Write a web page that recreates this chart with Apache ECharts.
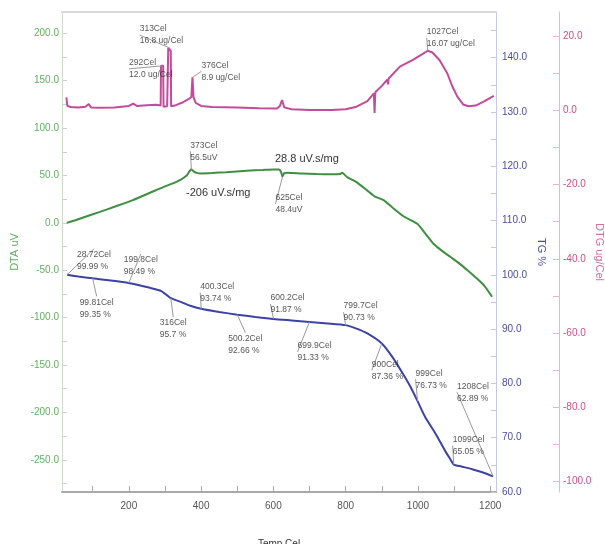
<!DOCTYPE html>
<html>
<head>
<meta charset="utf-8">
<script src="https://cdn.jsdelivr.net/npm/echarts@6/dist/echarts.min.js"></script>
<style>
html,body{margin:0;padding:0;background:#fff;}
#chart{width:605px;height:544px;}
</style>
</head>
<body>
<div id="chart"></div>
<script>
// ---------------- DATA ----------------
const dtaTemp = [28, 50, 80, 120, 160, 211, 260, 300, 322, 345, 360, 368, 373, 380, 390, 400, 430, 470, 526, 570, 600, 615, 621, 625, 630, 640, 680, 720, 760, 785, 790, 795, 805, 830, 860, 880, 905, 930, 960, 998, 1020, 1043, 1065, 1090, 1115, 1137, 1164, 1185, 1205];
const dtaVal  = [0, 2.5, 6.5, 11.6, 17, 24, 32, 38.5, 41.6, 46, 50, 54.5, 56.5, 54, 52.5, 52.2, 52.6, 53.5, 55, 55.8, 56.4, 56.2, 54, 49, 52.5, 53, 52, 51.5, 51.3, 51.5, 53, 51.5, 48, 43, 34, 28, 24, 16, 7, -1, -11, -22, -29, -36, -43, -50, -59, -67, -78];

const tgTemp = [28.72, 60, 99.81, 150, 199.8, 240, 270, 290, 300, 310, 316, 340, 370, 400.3, 450, 500.2, 550, 600.2, 650, 699.9, 750, 799.7, 830, 860, 900, 930, 960, 980, 999, 1020, 1050, 1075, 1090, 1099, 1120, 1150, 1180, 1208];
const tgVal  = [99.99, 99.7, 99.35, 98.95, 98.49, 97.9, 97.4, 97.0, 96.5, 96.0, 95.7, 95.1, 94.3, 93.74, 93.15, 92.66, 92.25, 91.87, 91.6, 91.33, 91.05, 90.73, 90.1, 89.2, 87.36, 84.8, 81.6, 79.3, 76.73, 73.8, 70.6, 67.6, 66.0, 65.05, 64.7, 64.2, 63.6, 62.89];

const dtgTemp = [27, 30, 40, 60, 80, 89, 95, 120, 160, 200, 212, 222, 250, 275, 288, 289, 295, 296, 306, 309, 316, 317, 330, 350, 365, 373, 376, 379, 385, 400, 430, 500, 560, 610, 618, 624, 630, 650, 700, 760, 800, 830, 860, 878, 880, 882, 900, 915, 917, 919, 950, 986, 1010, 1027, 1040, 1060, 1081, 1095, 1109, 1125, 1140, 1160, 1183, 1210];
const dtgVal  = [3.5, 1.2, 0.9, 0.8, 1.0, 1.7, 0.8, 0.7, 0.8, 1.2, 1.8, 1.2, 1.4, 1.5, 1.3, 12.0, 12.0, 1.0, 1.1, 16.8, 16.0, 1.1, 1.4, 2.2, 3.0, 3.6, 8.9, 3.5, 2.0, 1.2, 0.9, 0.8, 0.6, 0.5, 1.2, 2.8, 0.8, 0.3, 0.1, 0.1, 0.3, 1.0, 2.5, 4.6, -0.7, 4.9, 6.6, 8.3, 7.0, 8.6, 11.8, 13.6, 15.0, 16.07, 15.6, 13.5, 10.0, 6.5, 3.7, 1.6, 1.1, 1.3, 2.4, 3.9];

// annotations (value labels)
const tgNoteTemp = [28.72, 99.81, 199.8, 316, 400.3, 500.2, 600.2, 699.9, 799.7, 900, 999, 1099, 1208];
const tgNoteVal  = [99.99, 99.35, 98.49, 95.7, 93.74, 92.66, 91.87, 91.33, 90.73, 87.36, 76.73, 65.05, 62.89];
const tgNoteTempText = ['28.72', '99.81', '199.8', '316', '400.3', '500.2', '600.2', '699.9', '799.7', '900', '999', '1099', '1208'];
const tgNoteValText  = ['99.99', '99.35', '98.49', '95.7', '93.74', '92.66', '91.87', '91.33', '90.73', '87.36', '76.73', '65.05', '62.89'];

const dtaNoteTemp = [373, 625];
const dtaNoteVal  = [56.5, 48.4];
const dtaNoteTempText = ['373', '625'];
const dtaNoteValText  = ['56.5', '48.4'];

const dtgNoteTemp = [292, 313, 376, 1027];
const dtgNoteVal  = [12.0, 16.8, 8.9, 16.07];
const dtgNoteTempText = ['292', '313', '376', '1027'];
const dtgNoteValText  = ['12.0', '16.8', '8.9', '16.07'];

const areaNotes = ['28.8 uV.s/mg', '-206 uV.s/mg'];

// tick labels
const xLabelValues = [200, 400, 600, 800, 1000, 1200];
const xTickValues = [100, 200, 300, 400, 500, 600, 700, 800, 900, 1000, 1100, 1200];
const dtaLabelValues = [-250, -200, -150, -100, -50, 0, 50, 100, 150, 200];
const dtaTickValues = [-275, -250, -225, -200, -175, -150, -125, -100, -75, -50, -25, 0, 25, 50, 75, 100, 125, 150, 175, 200];
const tgLabelValues = [60, 70, 80, 90, 100, 110, 120, 130, 140];
const tgTickValues = [60, 65, 70, 75, 80, 85, 90, 95, 100, 105, 110, 115, 120, 125, 130, 135, 140, 145];
const dtgLabelValues = [-100, -80, -60, -40, -20, 0, 20];
const dtgTickValues = [-100, -90, -80, -70, -60, -50, -40, -30, -20, -10, 0, 10, 20];

// ---------------- LAYOUT (label offsets in px) ----------------
const tgNoteOffset = [[10,-26],[-13,18],[-5,-29],[-11,19],[-1,-28],[-9,18],[-3,-27],[-12,18],[-2,-25],[-10,15],[-2,-34],[-1,-31],[-36,-96]];
const dtaNoteOffset = [[-1,-30],[-7,15]];
const dtgNoteOffset = [[-33,-9],[-30,-25],[9,-18],[-1,-25]];

const zip = (a, b) => a.map((v, i) => [v, b[i]]);

const FONT = 'Liberation Sans, Arial, sans-serif';
const C_DTA = '#3f8f42', C_DTA_T = '#62b064';
const C_TG = '#3d43a4', C_TG_T = '#4b4e9e';
const C_DTG = '#c24b9a', C_DTG_T = '#c8508a';

function noteSeries(name, yIdx, temps, vals, tTxt, vTxt, unitSep, offsets) {
  return {
    name: name, type: 'scatter', xAxisIndex: 0, yAxisIndex: yIdx,
    symbolSize: 0, silent: true, z: 5,
    data: temps.map((t, i) => ({ value: [t, vals[i]], txt: tTxt[i] + 'Cel\n' + vTxt[i] + unitSep })),
    label: {
      show: true, position: 'inside', align: 'left', verticalAlign: 'top',
      fontSize: 8.5, lineHeight: 12, color: '#2a2a2a', fontFamily: FONT,
      formatter: p => p.data.txt
    },
    labelLine: { show: true, lineStyle: { color: '#9a9a9a', width: 1 } },
    labelLayout: p => ({ dx: offsets[p.dataIndex][0], dy: offsets[p.dataIndex][1] })
  };
}

const chart = echarts.init(document.getElementById('chart'), null, { renderer: 'canvas' });
chart.setOption({
  animation: false,
  backgroundColor: '#ffffff',
  textStyle: { fontFamily: FONT },
  grid: { left: 62, right: 109, top: 12, bottom: 52, containLabel: false, outerBoundsMode: 'none' },
  xAxis: [
    {
      type: 'value', min: 15, max: 1216, position: 'bottom',
      axisLine: { show: true, onZero: false, lineStyle: { color: '#a9a9a9', width: 2 } },
      axisTick: { show: true, inside: true, length: 6, customValues: xTickValues, lineStyle: { color: '#a9a9a9' } },
      axisLabel: { customValues: xLabelValues, formatter: v => String(v), color: '#555', fontSize: 10, margin: 9 },
      splitLine: { show: false },
      name: 'Temp Cel', nameLocation: 'middle', nameGap: 47, nameMoveOverlap: false,
      nameTextStyle: { color: '#333', fontSize: 10 }
    },
    {
      type: 'value', min: 15, max: 1216, position: 'top',
      axisLine: { show: true, onZero: false, lineStyle: { color: '#d9d9d9', width: 2 } },
      axisTick: { show: false }, axisLabel: { show: false }, splitLine: { show: false }
    }
  ],
  yAxis: [
    {
      type: 'value', position: 'left', min: -284, max: 222.5,
      axisLine: { show: true, onZero: false, lineStyle: { color: '#d3dcd3' } },
      axisTick: { show: true, inside: true, length: 5, customValues: dtaTickValues, lineStyle: { color: '#c9d3c9' } },
      axisLabel: { customValues: dtaLabelValues, formatter: v => v.toFixed(1), color: C_DTA_T, fontSize: 10, margin: 3 },
      splitLine: { show: false },
      name: 'DTA uV', nameLocation: 'middle', nameGap: 42, nameMoveOverlap: false,
      nameTextStyle: { color: C_DTA_T, fontSize: 11 }
    },
    {
      type: 'value', position: 'right', min: 60, max: 148.4,
      axisLine: { show: true, onZero: false, lineStyle: { color: '#c6c8e8' } },
      axisTick: { show: true, inside: true, length: 5, customValues: tgTickValues, lineStyle: { color: '#c6c8e8' } },
      axisLabel: { customValues: tgLabelValues, formatter: v => v.toFixed(1), color: C_TG_T, fontSize: 10, margin: 6 },
      splitLine: { show: false },
      name: 'TG %', nameLocation: 'middle', nameGap: 40, nameRotate: -90, nameMoveOverlap: false,
      nameTextStyle: { color: C_TG_T, fontSize: 11 }
    },
    {
      type: 'value', position: 'right', offset: 63, min: -102.8, max: 26.5,
      axisLine: { show: true, onZero: false, lineStyle: { color: '#f0b4c8' } },
      axisTick: { show: true, inside: true, length: 6, customValues: dtgTickValues, lineStyle: { color: '#f0b4c8' } },
      axisLabel: { customValues: dtgLabelValues, formatter: v => v.toFixed(1), color: C_DTG_T, fontSize: 10, margin: 4 },
      splitLine: { show: false },
      name: 'DTG ug/Cel', nameLocation: 'middle', nameGap: 35, nameRotate: -90, nameMoveOverlap: false,
      nameTextStyle: { color: '#d070a0', fontSize: 11 }
    }
  ],
  graphic: [
    { type: 'text', left: 275, top: 153, silent: true,
      style: { text: areaNotes[0], fontSize: 11, fill: '#333', fontFamily: FONT } },
    { type: 'text', left: 186, top: 187, silent: true,
      style: { text: areaNotes[1], fontSize: 11, fill: '#333', fontFamily: FONT } }
  ],
  series: [
    {
      name: 'DTA', type: 'line', xAxisIndex: 0, yAxisIndex: 0, data: zip(dtaTemp, dtaVal),
      showSymbol: false, smooth: 0.2, lineStyle: { color: C_DTA, width: 2 }, silent: true
    },
    {
      name: 'TG', type: 'line', xAxisIndex: 0, yAxisIndex: 1, data: zip(tgTemp, tgVal),
      showSymbol: false, smooth: 0.2, lineStyle: { color: C_TG, width: 2 }, silent: true
    },
    {
      name: 'DTG', type: 'line', xAxisIndex: 0, yAxisIndex: 2, data: zip(dtgTemp, dtgVal),
      showSymbol: false, smooth: false, lineStyle: { color: C_DTG, width: 2 }, silent: true
    },
    noteSeries('TG notes', 1, tgNoteTemp, tgNoteVal, tgNoteTempText, tgNoteValText, ' %', tgNoteOffset),
    noteSeries('DTA notes', 0, dtaNoteTemp, dtaNoteVal, dtaNoteTempText, dtaNoteValText, 'uV', dtaNoteOffset),
    noteSeries('DTG notes', 2, dtgNoteTemp, dtgNoteVal, dtgNoteTempText, dtgNoteValText, ' ug/Cel', dtgNoteOffset)
  ]
});
</script>
</body>
</html>
